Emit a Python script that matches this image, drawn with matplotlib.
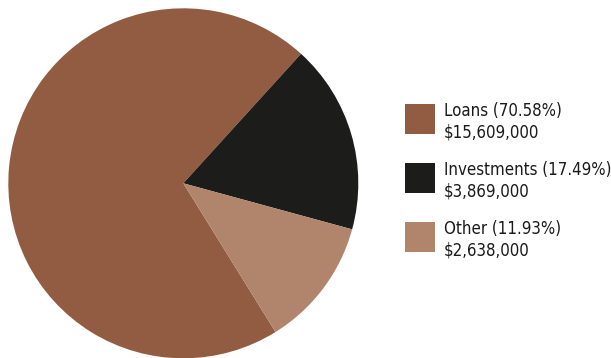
import matplotlib
matplotlib.use("Agg")
import matplotlib.pyplot as plt
from matplotlib.patches import Rectangle

# portfolio breakdown
categories = ["Loans", "Investments", "Other"]
amounts = [15609000, 3869000, 2638000]
colors = ["#925C42", "#1C1D1B", "#B1846C"]

total = sum(amounts)

W, H = 611, 358
fig = plt.figure(figsize=(W / 100, H / 100), dpi=100)
fig.patch.set_facecolor("white")

# pie, radius 175 px centred at (183, 183) from top-left
cx, cy, r = 183.3, 183.3, 175
ax = fig.add_axes([(cx - r) / W, (H - cy - r) / H, 2 * r / W, 2 * r / H])
ax.pie(amounts, colors=colors, startangle=-58.2, counterclock=False,
       wedgeprops=dict(linewidth=0))
ax.set_xlim(-1, 1)
ax.set_ylim(-1, 1)
ax.set_aspect("equal")
ax.axis("off")

# legend: coloured square plus two text lines per entry
for i, (name, amt, col) in enumerate(zip(categories, amounts, colors)):
    top = 104 + i * 59
    fig.patches.append(Rectangle((405 / W, (H - top - 30) / H), 30 / W, 30 / H,
                                 transform=fig.transFigure, facecolor=col,
                                 edgecolor="none"))
    pct = amt / total * 100
    label = f"{name} ({pct:.2f}%)\n${amt:,.0f}"
    fig.text(443.5 / W, (H - top - 17.5) / H, label, ha="left", va="center",
             fontsize=12.1, color="#1a1a1a", family="DejaVu Sans",
             fontstretch="condensed", linespacing=1.22)

fig.savefig("out.png", dpi=100)
